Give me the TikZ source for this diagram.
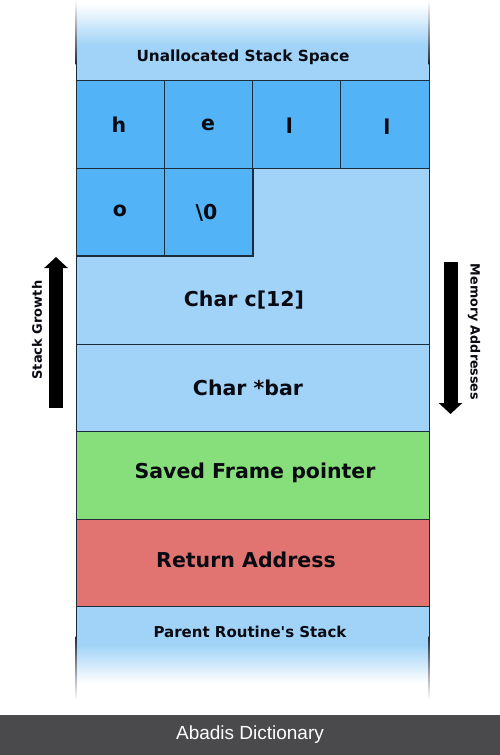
\documentclass[tikz,border=0pt]{standalone}
\usepackage{fontspec}
\setmainfont{DejaVu Sans}
\newfontfamily\brandfont{Liberation Sans}
\usetikzlibrary{arrows.meta}
\definecolor{lblue}{HTML}{A0D3F7}
\definecolor{cblue}{HTML}{52B4F6}
\definecolor{sgreen}{HTML}{86DF7A}
\definecolor{rred}{HTML}{E17470}
\definecolor{edge}{HTML}{1E2B38}
\definecolor{barcol}{HTML}{4A494B}
\definecolor{ink}{HTML}{0A0A12}
\begin{document}
\begin{tikzpicture}[x=1pt,y=-1pt,
  bigtxt/.style={font=\bfseries\fontsize{20.5}{24}\selectfont, text=ink, inner sep=0pt},
  cellbox/.style={draw=edge, line width=0.9pt, fill=cblue, minimum width=88.25pt,
     minimum height=87.5pt, inner sep=0pt, outer sep=0pt},
  rowbox/.style={draw=edge, line width=0.9pt, minimum width=353pt,
     minimum height=87.5pt, inner sep=0pt, outer sep=0pt},
  sidetxt/.style={text=ink, inner sep=0pt},
  bigarrow/.style={line width=14pt, black, -{Triangle[width=23pt,length=11pt]}}]
\useasboundingbox (0,0) rectangle (500,755);
\fill[white] (0,0) rectangle (500,755);
% top fade
\shade[top color=white, bottom color=lblue] (76,4) rectangle (429,45);
\fill[lblue] (76,45) rectangle (429,81);
\shade[top color=white, bottom color=edge] (75.6,0) rectangle (76.5,64);
\shade[top color=white, bottom color=edge] (428.5,0) rectangle (429.4,64);
\draw[edge, line width=0.9pt] (76,60) -- (76,81) (429,60) -- (429,81);
\node[font=\bfseries\fontsize{15.3}{18}\selectfont, text=ink, inner sep=0pt] (unalloc) at (243,57) {Unallocated Stack Space};
% char c[12] region (L-shape)
\filldraw[fill=lblue, draw=edge, line width=0.9pt] (76,256) -- (253,256) -- (253,168) -- (429,168) -- (429,344) -- (76,344) -- cycle;
\node[bigtxt] (carr) at (244,300) {Char c[12]};
% cells
\node[cellbox] (ch) at (120.1,124.5) {};
\node[cellbox] (ce) at (208.4,124.5) {};
\node[cellbox] (cl1) at (296.6,124.5) {};
\node[cellbox] (cl2) at (384.9,124.5) {};
\node[cellbox] (co) at (120.1,212) {};
\node[cellbox] (cz) at (208.4,212) {};
\node[bigtxt] (th) at (119,124.5) {h};
\node[bigtxt] (te) at (208,124.5) {e};
\node[bigtxt] (tl1) at (289.5,126) {l};
\node[bigtxt] (tl2) at (387,127) {l};
\node[bigtxt] (to) at (120,211) {o};
\node[bigtxt] (tz) at (206.5,213) {\textbackslash 0};
% rows
\node[rowbox, fill=lblue] (bar) at (252.5,388) {};
\node[rowbox, fill=sgreen] (sfp) at (252.5,475.5) {};
\node[rowbox, fill=rred] (ret) at (252.5,563) {};
\node[bigtxt] (tbar) at (248,388) {Char *bar};
\node[bigtxt] (tsfp) at (255,473) {Saved Frame pointer};
\node[bigtxt] (tret) at (246,560) {Return Address};
% bottom fade
\fill[lblue] (76,607) rectangle (429,645);
\shade[top color=lblue, bottom color=white] (76,645) rectangle (429,683);
\draw[edge, line width=0.9pt] (76,607) -- (76,640) (429,607) -- (429,640);
\shade[top color=edge, bottom color=white] (75.6,636) rectangle (76.5,700);
\shade[top color=edge, bottom color=white] (428.5,636) rectangle (429.4,700);
\node[font=\bfseries\fontsize{15}{18}\selectfont, text=ink, inner sep=0pt] (parent) at (250,632) {Parent Routine\textquotesingle s Stack};
% arrows
\coordinate (sgTail) at (56,408);
\coordinate (sgHead) at (56,257);
\coordinate (maTail) at (450.5,262);
\coordinate (maHead) at (450.5,414);
\draw[bigarrow] (sgTail) -- (sgHead);
\draw[bigarrow] (maTail) -- (maHead);
\node[sidetxt, rotate=90, font=\bfseries\fontsize{13}{15}\selectfont] (sglabel) at (37,330) {Stack Growth};
\node[sidetxt, rotate=-90, font=\bfseries\fontsize{12.7}{15}\selectfont] (malabel) at (474,332) {Memory Addresses};
% bottom bar
\node[fill=barcol, minimum width=500pt, minimum height=40pt, inner sep=0pt, outer sep=0pt,
  text=white, font=\brandfont\fontsize{19}{22}\selectfont] (brand) at (250,735) {Abadis Dictionary};
\end{tikzpicture}
\end{document}
